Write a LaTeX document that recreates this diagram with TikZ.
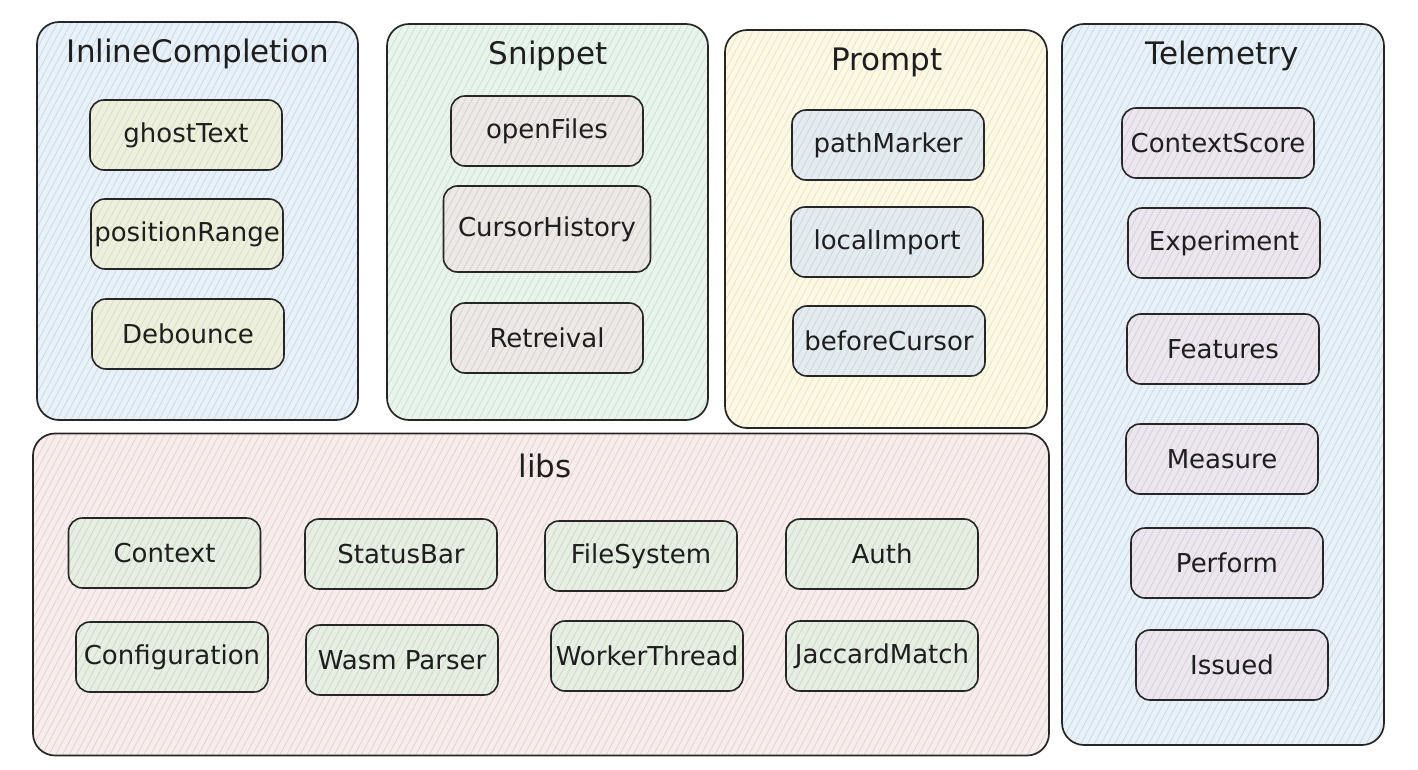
\documentclass[tikz,border=0pt]{standalone}
\usepackage{fontspec}
\setmainfont{DejaVu Sans}
\usetikzlibrary{patterns.meta}
\definecolor{linec}{HTML}{262626}
\definecolor{txtc}{HTML}{1E1E1E}
\definecolor{cblue}{HTML}{E8F0F8}
\definecolor{cbluel}{HTML}{C6D7E9}
\definecolor{cgreen}{HTML}{E8F4EC}
\definecolor{cgreenl}{HTML}{C9E1CF}
\definecolor{cyellow}{HTML}{FBF8E6}
\definecolor{cyellowl}{HTML}{EBE3BC}
\definecolor{cpink}{HTML}{F7EDEC}
\definecolor{cpinkl}{HTML}{E6CFCD}
\definecolor{iyel}{HTML}{EEF0DF}
\definecolor{iyell}{HTML}{D9DDBA}
\definecolor{igray}{HTML}{EDE9E7}
\definecolor{igrayl}{HTML}{D6CEC9}
\definecolor{iblue}{HTML}{E5ECF0}
\definecolor{ibluel}{HTML}{C8D5DD}
\definecolor{ilav}{HTML}{ECE7EE}
\definecolor{ilavl}{HTML}{D5CBD9}
\definecolor{igrn}{HTML}{E7EEE3}
\definecolor{igrnl}{HTML}{CAD9C2}
\tikzset{
  hatch/.style 2 args={preaction={fill=#1}, pattern={Lines[angle=62,distance=6pt,line width=0.7pt]}, pattern color=#2},
  cont/.style={draw=linec, line width=1.7pt, rounded corners=22pt, inner sep=0pt},
  item/.style={draw=linec, line width=1.6pt, rounded corners=14pt, inner sep=0pt,
    minimum width=192pt, minimum height=70pt, text=txtc, font=\fontsize{26}{30}\selectfont},
  ttl/.style={text=txtc, font=\fontsize{31}{36}\selectfont, inner sep=0pt},
}
\begin{document}
\begin{tikzpicture}[x=1pt,y=-1pt]
\useasboundingbox (0,0) rectangle (1418,770);
\fill[white] (0,0) rectangle (1418,770);
% containers
\node[cont, hatch={cblue}{cbluel}, minimum width=321pt, minimum height=398pt] (inl) at (197.5,221) {};
\node[cont, hatch={cgreen}{cgreenl}, minimum width=321pt, minimum height=396pt] (snip) at (547.5,222) {};
\node[cont, hatch={cyellow}{cyellowl}, minimum width=322pt, minimum height=398pt] (prm) at (886,229) {};
\node[cont, hatch={cblue}{cbluel}, minimum width=322pt, minimum height=721pt] (tel) at (1223,384.5) {};
\node[cont, hatch={cpink}{cpinkl}, minimum width=1016pt, minimum height=322pt] (libs) at (541,594.5) {};
% titles
\node[ttl] (tinl) at (198,54) {InlineCompletion};
\node[ttl] (tsnip) at (548,56) {Snippet};
\node[ttl] (tprm) at (887,62) {Prompt};
\node[ttl] (ttel) at (1222,56) {Telemetry};
\node[ttl] (tlibs) at (545,466) {libs};
% InlineCompletion
\node[item, hatch={iyel}{iyell}] (ghost) at (186,135) {ghostText};
\node[item, hatch={iyel}{iyell}] (posr) at (187,234) {positionRange};
\node[item, hatch={iyel}{iyell}] (deb) at (188,334) {Debounce};
% Snippet
\node[item, hatch={igray}{igrayl}] (openf) at (547,131) {openFiles};
\node[item, hatch={igray}{igrayl}, minimum width=207pt, minimum height=86pt] (curh) at (547,229) {CursorHistory};
\node[item, hatch={igray}{igrayl}] (retr) at (547,338) {Retreival};
% Prompt
\node[item, hatch={iblue}{ibluel}] (pathm) at (888,145) {pathMarker};
\node[item, hatch={iblue}{ibluel}] (loci) at (887,242) {localImport};
\node[item, hatch={iblue}{ibluel}] (befc) at (889,341) {beforeCursor};
% Telemetry
\node[item, hatch={ilav}{ilavl}] (ctxs) at (1218,143) {ContextScore};
\node[item, hatch={ilav}{ilavl}] (expe) at (1224,243) {Experiment};
\node[item, hatch={ilav}{ilavl}] (feat) at (1223,349) {Features};
\node[item, hatch={ilav}{ilavl}] (meas) at (1222,459) {Measure};
\node[item, hatch={ilav}{ilavl}] (perf) at (1227,563) {Perform};
\node[item, hatch={ilav}{ilavl}] (iss) at (1232,665) {Issued};
% libs
\node[item, hatch={igrn}{igrnl}] (ctx) at (164.5,553) {Context};
\node[item, hatch={igrn}{igrnl}] (stat) at (401,554) {StatusBar};
\node[item, hatch={igrn}{igrnl}] (fsys) at (641,556) {FileSystem};
\node[item, hatch={igrn}{igrnl}] (auth) at (882,554) {Auth};
\node[item, hatch={igrn}{igrnl}] (conf) at (172,657) {Configuration};
\node[item, hatch={igrn}{igrnl}] (wasm) at (402,660) {Wasm Parser};
\node[item, hatch={igrn}{igrnl}] (work) at (647,656) {WorkerThread};
\node[item, hatch={igrn}{igrnl}] (jacc) at (882,656) {JaccardMatch};
\end{tikzpicture}
\end{document}
